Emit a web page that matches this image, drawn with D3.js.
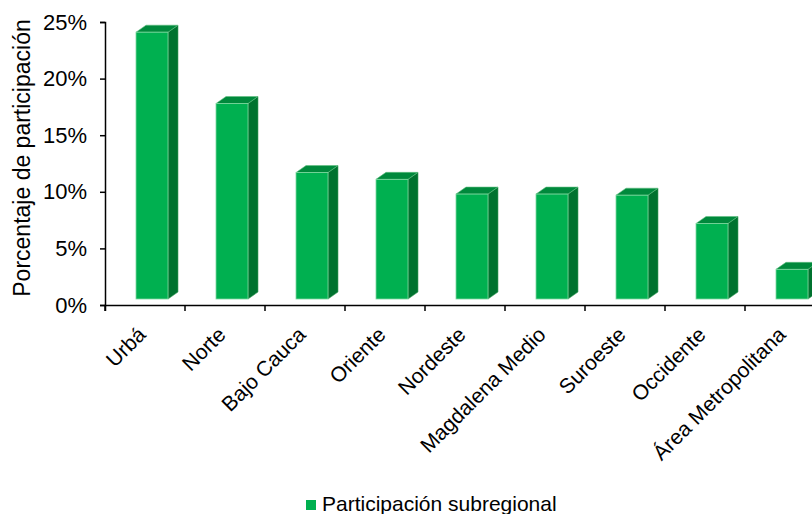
<!DOCTYPE html>
<html><head><meta charset="utf-8">
<script src="https://cdn.jsdelivr.net/npm/d3@7"></script>
<style>body{margin:0;background:#fff}svg{display:block;font-family:"Liberation Sans",Arial,sans-serif}</style>
</head><body><svg id="c" width="812" height="514"></svg>
<script>
const categories = ["Urbá","Norte","Bajo Cauca","Oriente","Nordeste","Magdalena Medio","Suroeste","Occidente","Área Metropolitana"];
const values = [24.1, 17.8, 11.7, 11.1, 9.8, 9.8, 9.7, 7.2, 3.15];
const yTicks = [0, 5, 10, 15, 20, 25];
const seriesName = "Participación subregional";
const yTitle = "Porcentaje de participación";

const svg = d3.select("#c");
const x = d3.scaleBand().domain(categories).range([105, 825]).padding(0);
const y = d3.scaleLinear().domain([0, 25]).range([305, 22]);
const dx = 10, dy = 7, floor = 6;
const frontOff = 31, frontW = 32;

// axes
const yAxis = svg.append("g").attr("transform", "translate(105,0)")
  .call(d3.axisLeft(y).tickValues(yTicks).tickFormat(d => d + "%").tickSizeOuter(0).tickSize(5));
yAxis.select(".domain").attr("stroke", "#000").attr("stroke-width", 1.5);
yAxis.selectAll(".tick line").attr("stroke", "#000").attr("stroke-width", 1.5);
yAxis.selectAll(".tick text").attr("font-size", 22).attr("fill", "#000").attr("x", -18)
  .attr("font-family", "Liberation Sans, Arial, sans-serif");

const xAxis = svg.append("g").attr("transform", "translate(0,305)")
  .call(d3.axisBottom(x).tickSizeOuter(0).tickSize(6).tickFormat(""));
xAxis.select(".domain").attr("stroke", "#000").attr("stroke-width", 1.5);
xAxis.selectAll(".tick").attr("transform", d => `translate(${x(d)},0)`);
xAxis.selectAll(".tick line").attr("stroke", "#000").attr("stroke-width", 1.5);

// bars
const g = svg.append("g");
categories.forEach((c, i) => {
  const x0 = x(c) + frontOff, x1 = x0 + frontW;
  const yt = y(values[i]), yb = y(0) - floor;
  g.append("path").attr("d", `M${x1},${yt}L${x1+dx},${yt-dy}L${x1+dx},${yb-dy}L${x1},${yb}Z`)
    .attr("fill", "#00722f").attr("stroke", "#3fa060").attr("stroke-width", 0.6);
  g.append("path").attr("d", `M${x0},${yt}L${x0+dx},${yt-dy}L${x1+dx},${yt-dy}L${x1},${yt}Z`)
    .attr("fill", "#00893c").attr("stroke", "#5fbf80").attr("stroke-width", 0.6);
  g.append("rect").attr("x", x0).attr("y", yt).attr("width", frontW).attr("height", yb - yt)
    .attr("fill", "#00b050").attr("stroke", "#7fd8a0").attr("stroke-width", 0.8);
});

// x labels
svg.append("g").selectAll("text").data(categories).join("text")
  .attr("transform", d => `translate(${x(d) + 42},${336}) rotate(-45)`)
  .attr("text-anchor", "end").attr("font-size", 21).attr("fill", "#000")
  .text(d => d);

// y title
svg.append("text").attr("transform", "translate(30,158) rotate(-90)")
  .attr("text-anchor", "middle").attr("font-size", 23).attr("fill", "#000").text(yTitle);

// legend
svg.append("rect").attr("x", 306).attr("y", 500).attr("width", 10).attr("height", 10).attr("fill", "#00b050");
svg.append("text").attr("x", 322).attr("y", 511).attr("font-size", 21).attr("fill", "#000").text(seriesName);
</script></body></html>
